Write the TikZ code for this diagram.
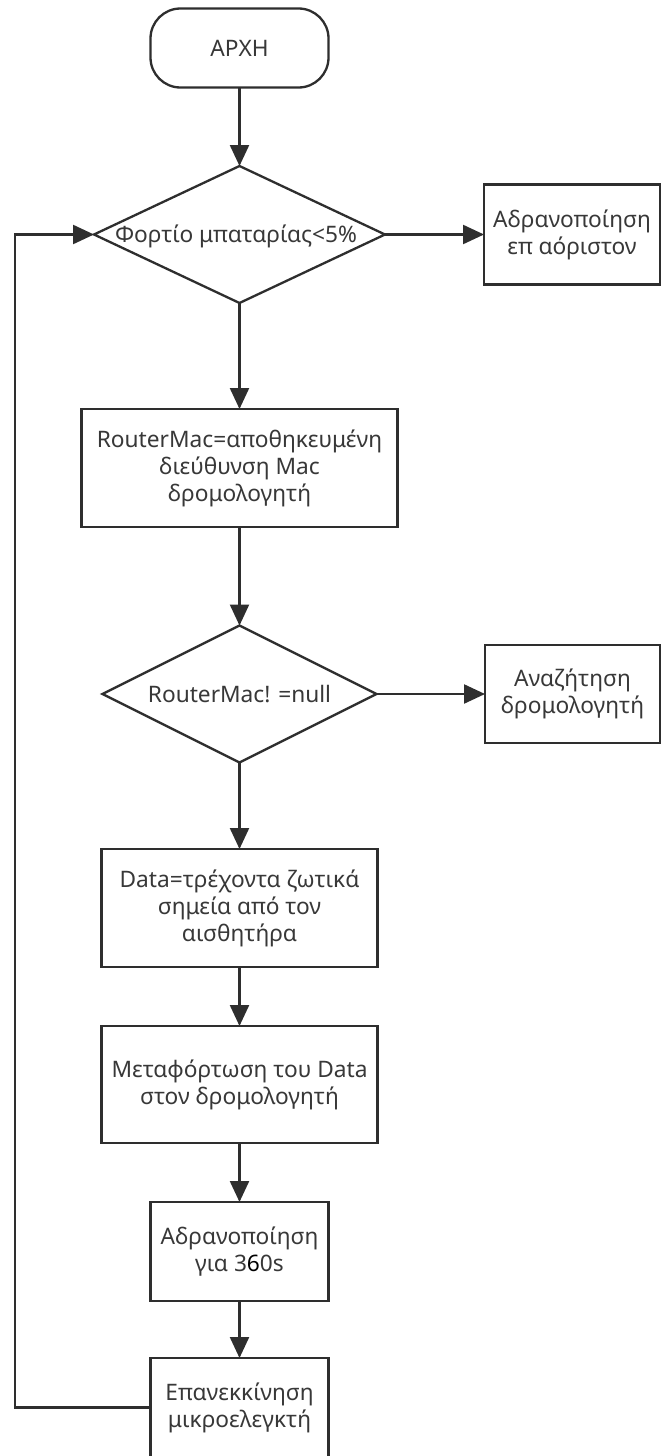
\documentclass[tikz,border=0pt]{standalone}
\usepackage{fontspec}
\setmainfont{Noto Sans}
\usetikzlibrary{shapes.geometric,arrows.meta}
\definecolor{ink}{HTML}{2E2E2E}
\definecolor{txt}{HTML}{383838}
\tikzset{
  base/.style={draw=ink, line width=2.3pt, inner sep=0pt, outer sep=0pt,
    align=center, text=txt, font=\fontsize{22.7pt}{27pt}\selectfont},
  term/.style={base, rectangle, rounded corners=30pt},
  proc/.style={base, rectangle},
  dec/.style={base, diamond},
  lbl/.style={inner sep=0pt, align=center, text=txt, font=\fontsize{22.7pt}{27pt}\selectfont},
  arr/.style={draw=ink, line width=2.3pt, -{Triangle[length=21pt,width=19pt]}}
}
\begin{document}
\begin{tikzpicture}[x=1pt,y=-1pt]
\useasboundingbox (0,0) rectangle (661,1456);
\fill[white] (0,0) rectangle (661,1456);

% main column
\node[term, minimum width=178pt, minimum height=79pt] (start) at (239.5,48) {ΑΡΧΗ};
\node[dec, minimum width=291pt, minimum height=137pt] (d1) at (239.5,234.5) {};
\node[lbl] (d1t) at (236,236) {Φορτίο μπαταρίας<5\%};
\node[proc, minimum width=316pt, minimum height=118pt] (mac) at (239.5,468) {RouterMac=αποθηκευμένη\\διεύθυνση Mac\\δρομολογητή};
\node[dec, minimum width=274pt, minimum height=137pt] (d2) at (239.5,694) {};
\node[lbl] (d2t) at (239.5,694) {RouterMac! =null};
\node[proc, minimum width=276pt, minimum height=118pt] (data) at (239.5,908) {Data=τρέχοντα ζωτικά\\σημεία από τον\\αισθητήρα};
\node[proc, minimum width=276pt, minimum height=117pt] (upload) at (239.5,1084.5) {Μεταφόρτωση του Data\\στον δρομολογητή};
\node[proc, minimum width=178pt, minimum height=99pt] (sleep) at (239.5,1251.5) {Αδρανοποίηση\\για 3{\bfseries\color{black}6}0s};
\node[proc, minimum width=178pt, minimum height=99pt] (restart) at (239.5,1407.5) {Επανεκκίνηση\\μικροελεγκτή};

% side branches
\node[proc, minimum width=176pt, minimum height=100pt] (off) at (572,234.5) {Αδρανοποίηση\\επ αόριστον};
\node[proc, minimum width=175pt, minimum height=98pt] (search) at (572.5,694) {Αναζήτηση\\δρομολογητή};

% connectors
\draw[arr] (start) -- (d1);
\draw[arr] (d1) -- (off);
\draw[arr] (d1) -- (mac);
\draw[arr] (mac) -- (d2);
\draw[arr] (d2) -- (search);
\draw[arr] (d2) -- (data);
\draw[arr] (data) -- (upload);
\draw[arr] (upload) -- (sleep);
\draw[arr] (sleep) -- (restart);

% loop back to the battery check
\coordinate (loopc) at (15,1407.5);
\draw[arr] (restart.west) -- (loopc) |- (d1.west);
\end{tikzpicture}
\end{document}
